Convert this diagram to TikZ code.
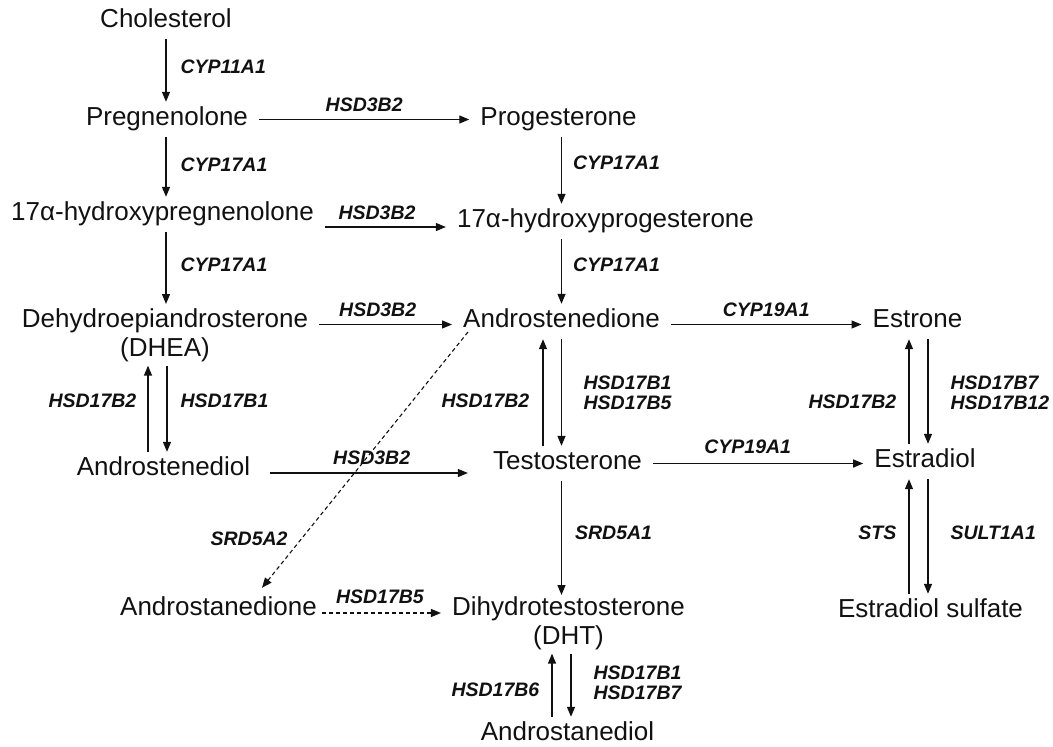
\documentclass[tikz,border=0pt]{standalone}
\usepackage{fontspec}
\setmainfont{Liberation Sans}
\usepackage{tikz}
\usepackage{xcolor}
\usetikzlibrary{arrows.meta,calc}
\definecolor{ink}{HTML}{111111}
\tikzset{
  cmpdbox/.style ={font=\fontsize{26}{29}\selectfont, text=ink,
                   text height=19pt, text depth=8pt,
                   inner xsep=11pt, inner ysep=4pt, anchor=base},
  cmpdtwo/.style ={font=\fontsize{26}{29}\selectfont, text=ink, align=center,
                   inner xsep=11pt, inner ysep=4pt, anchor=north},
  enzlabel/.style={font=\fontsize{19.5}{20}\selectfont\bfseries\itshape,
                   text=ink, inner sep=2pt, align=left},
  rxnarr/.style  ={-{Triangle[length=10pt,width=8pt]}, line width=1.3pt, draw=ink},
  dasharr/.style ={rxnarr, line width=1.1pt, dash pattern=on 4pt off 3pt},
}

\begin{document}
\begin{tikzpicture}[x=1pt,y=-1pt]
    \useasboundingbox (0,0) rectangle (1053,747);

    % compounds
    \node[cmpdbox] (chol)      at (166,27)    {Cholesterol};
    \node[cmpdbox] (preg)      at (167,125)   {Pregnenolone};
    \node[cmpdbox] (prog)      at (558.5,125) {Progesterone};
    \node[cmpdbox] (ohpreg)    at (162.5,220) {17α-hydroxypregnenolone};
    \node[cmpdbox] (ohprog)    at (605.5,227) {17α-hydroxyprogesterone};
    \node[cmpdtwo] (dhea)      at (165,304)   {Dehydroepiandrosterone\\(DHEA)};
    \node[cmpdbox] (andro)     at (561.5,327) {Androstenedione};
    \node[cmpdbox] (estrone)   at (917.5,327) {Estrone};
    \node[cmpdbox] (andiol)    at (163.5,475) {Androstenediol};
    \node[cmpdbox] (testo)     at (567.5,469) {Testosterone};
    \node[cmpdbox] (estradiol) at (925,467)   {Estradiol};
    \node[cmpdbox] (astd)      at (218.5,615) {Androstanedione};
    \node[cmpdtwo] (dht)       at (568.5,592) {Dihydrotestosterone\\(DHT)};
    \node[cmpdbox] (esulf)     at (930.5,617) {Estradiol sulfate};
    \node[cmpdbox] (asdiol)    at (567.5,740) {Androstanediol};

    % left column
    \draw[rxnarr] (chol.south) -- node[enzlabel,pos=0.44,right=12pt] {CYP11A1} (chol.south |- preg.north);
    \draw[rxnarr] (preg.south -| chol) -- node[enzlabel,pos=0.47,right=12pt] {CYP17A1} (ohpreg.north -| chol);
    \draw[rxnarr] (ohpreg.south -| chol) -- node[enzlabel,pos=0.46,right=12pt] {CYP17A1} (dhea.north -| chol);

    % middle column
    \draw[rxnarr] (prog.south -| andro) -- node[enzlabel,pos=0.39,right=9pt] {CYP17A1} (ohprog.north -| andro);
    \draw[rxnarr] (ohprog.south -| andro) -- node[enzlabel,pos=0.4,right=9pt] {CYP17A1} (andro.north);
    \draw[rxnarr,shorten >=-3pt] (testo.south -| andro) -- node[enzlabel,pos=0.47,right=11pt] {SRD5A1} (dht.north -| andro);

    % across
    \draw[rxnarr] (preg.east) -- node[enzlabel,above=5pt] {HSD3B2} (prog.west);
    \draw[rxnarr] (ohpreg.east |- ohprog.base) -- node[enzlabel,pos=0.43,above=5pt] {HSD3B2} (ohprog.base west);
    \draw[rxnarr] ([yshift=-3pt]andro.west -| dhea.east) -- node[enzlabel,pos=0.44,above=5pt] {HSD3B2} ([yshift=-3pt]andro.west);
    \draw[rxnarr] ([yshift=-3pt]andro.east) -- node[enzlabel,above=5pt] {CYP19A1} ([yshift=-3pt]andro.east -| estrone.west);
    \draw[rxnarr,shorten <=9pt,shorten >=14pt] ([yshift=-3.5pt]andiol.east) -- node[enzlabel,above=6pt] {HSD3B2} ([yshift=-3.5pt]andiol.east -| testo.west);
    \draw[rxnarr] (testo.east) -- node[enzlabel,pos=0.45,above=7pt] {CYP19A1} (testo.east -| estradiol.west);

    % 5alpha side route
    \draw[dasharr] ([xshift=16pt,yshift=-5pt]andro.base west) -- node[enzlabel,pos=0.81,left=11pt] {SRD5A2} ([xshift=43.5pt,yshift=4pt]astd.north);
    \draw[dasharr,shorten <=-6pt] ([yshift=-3.5pt]astd.east) -- node[enzlabel,pos=0.46,above=7pt] {HSD17B5} ([yshift=-3.5pt]astd.east -| dht.west);

    % reversible pairs
    \draw[rxnarr] ([xshift=-15.5pt]andiol.north) -- node[enzlabel,pos=0.59,left=9pt] {HSD17B2} ([xshift=-15.5pt]andiol.north |- dhea.south);
    \draw[rxnarr] ([xshift=2pt]dhea.south) -- node[enzlabel,pos=0.41,right=11pt] {HSD17B1} ([xshift=2pt]dhea.south |- andiol.north);

    \draw[rxnarr] ([xshift=-24.5pt]testo.north) -- node[enzlabel,pos=0.42,left=11pt] {HSD17B2} ([xshift=-24.5pt]testo.north |- andro.south);
    \draw[rxnarr] (andro.south) -- node[enzlabel,pos=0.5,right=19.5pt] {HSD17B1\\HSD17B5} (andro.south |- testo.north);

    \draw[rxnarr] ([xshift=-16pt]estradiol.north) -- node[enzlabel,pos=0.4,left=10pt] {HSD17B2} ([xshift=-16pt]estradiol.north |- estrone.south);
    \draw[rxnarr] ([xshift=10.5pt]estrone.south) -- node[enzlabel,pos=0.51,right=20pt] {HSD17B7\\HSD17B12} ([xshift=10.5pt]estrone.south |- estradiol.north);

    \draw[rxnarr] ([xshift=-21.5pt]esulf.north) -- node[enzlabel,pos=0.53,left=10pt] {STS} ([xshift=-21.5pt]esulf.north |- estradiol.south);
    \draw[rxnarr] ([xshift=3pt]estradiol.south) -- node[enzlabel,pos=0.47,right=20pt] {SULT1A1} ([xshift=3pt]estradiol.south |- esulf.north);

    \draw[rxnarr] ([xshift=-15.5pt]asdiol.north) -- node[enzlabel,pos=0.43,left=10pt] {HSD17B6} ([xshift=-15.5pt]asdiol.north |- dht.south);
    \draw[rxnarr] ([xshift=2.5pt]dht.south) -- node[enzlabel,pos=0.46,right=20pt] {HSD17B1\\HSD17B7} ([xshift=2.5pt]dht.south |- asdiol.north);
\end{tikzpicture}
\end{document}
